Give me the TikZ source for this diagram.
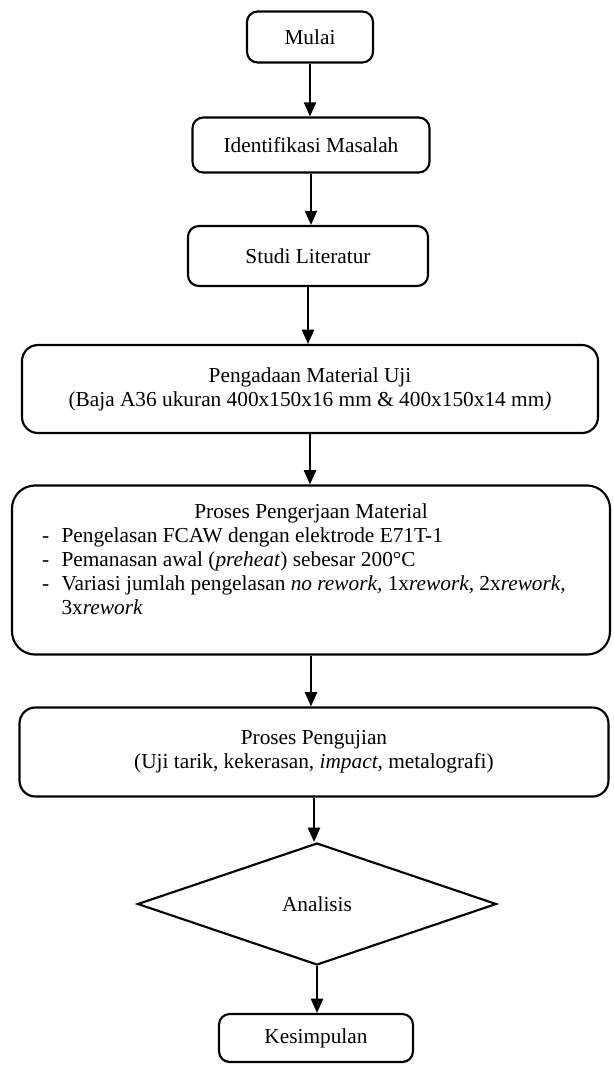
\documentclass[tikz,border=0pt]{standalone}
\usepackage{fontspec}
\setmainfont{Liberation Serif}
\usetikzlibrary{arrows.meta,shapes.geometric}

\begin{document}
\begin{tikzpicture}
		[x=0.5625pt,y=-0.5625pt, font=\fontsize{12}{13.6}\selectfont,
		step box/.style={draw, line width=1.2pt, rounded corners=6pt, align=center, inner sep=2pt},
		big box/.style={step box, rounded corners=9pt},
		decision/.style={draw, line width=1.2pt, diamond, inner sep=1pt},
		flow/.style={line width=1.2pt, -{Triangle[length=8pt,width=6.8pt]}}]
		\useasboundingbox (0,0) rectangle (614,1070);
		% langkah penelitian
		\node[step box, minimum width=70.9pt, minimum height=28.7pt] (mulai) at (310,37) {Mulai};
		\node[step box, minimum width=133.3pt, minimum height=30.9pt] (masalah) at (311,145) {Identifikasi Masalah};
		\node[step box, minimum width=135pt, minimum height=33.7pt] (studi) at (308,256) {Studi Literatur};
		\node[big box, minimum width=324pt, minimum height=49.5pt] (material) at (310,389) {Pengadaan Material Uji\\(Baja A36 ukuran 400x150x16 mm \& 400x150x14 mm\textit{)}};
		\node[big box, rounded corners=13pt, minimum width=336.4pt, minimum height=95.1pt] (kerja) at (311,570) {};
		\node[align=center, inner sep=0pt] (kerjateks) at (311,563) {Proses Pengerjaan Material\\
			\begin{tabular}{@{}l@{\hspace{7pt}}l@{}}
				- & Pengelasan FCAW dengan elektrode E71T-1\\
				- & Pemanasan awal (\textit{preheat}) sebesar 200°C\\
				- & Variasi jumlah pengelasan \textit{no rework,} 1x\textit{rework,} 2x\textit{rework,}\\
				  & 3x\textit{rework}
			\end{tabular}\hspace*{8pt}};
		\node[big box, minimum width=331.3pt, minimum height=50.1pt] (uji) at (314,752) {Proses Pengujian\\(Uji tarik, kekerasan, \textit{impact}, metalografi)};
		\node[decision, minimum width=201.9pt, minimum height=68.6pt] (analisis) at (317,904) {Analisis};
		\node[step box, minimum width=109.1pt, minimum height=27pt] (simpul) at (316,1038) {Kesimpulan};
		% panah
		\draw[flow] (mulai.south) -- (mulai.south |- masalah.north);
		\draw[flow] (masalah.south) -- (masalah.south |- studi.north);
		\draw[flow] (studi.south) -- (studi.south |- material.north);
		\draw[flow] (material.south) -- (material.south |- kerja.north);
		\draw[flow] (kerja.south) -- (kerja.south |- uji.north);
		\draw[flow] (uji.south) -- (uji.south |- analisis.north);
		\draw[flow] (analisis.south) -- (analisis.south |- simpul.north);
	\end{tikzpicture}
\end{document}
